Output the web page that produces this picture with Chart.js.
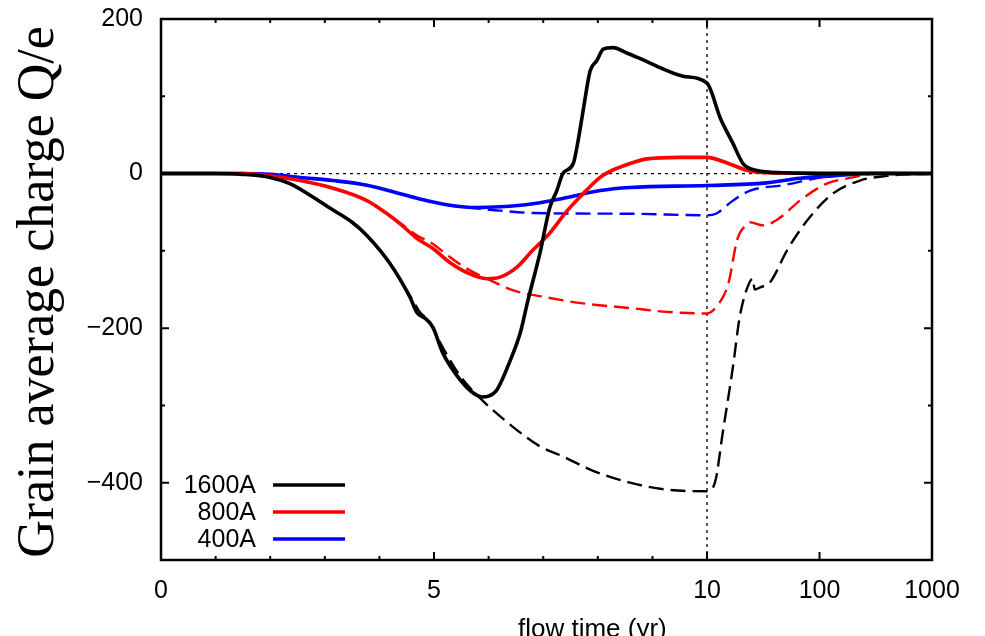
<!DOCTYPE html>
<html>
<head>
<meta charset="utf-8">
<title>Grain average charge</title>
<script src="https://cdn.jsdelivr.net/npm/chart.js@4.4.1/dist/chart.umd.min.js"></script>
<style>
  body { margin: 0; background: #fff; }
  canvas { display: block; }
</style>
</head>
<body>
<canvas id="chargeChart" width="985" height="636"></canvas>
<script>
// flow time in yr, charge in units of e
const t1600 = [0, 1, 1.5, 2, 2.36, 2.73, 3.1, 3.5, 3.77, 4.19, 4.56, 4.69, 4.85, 4.98, 5.16, 5.48, 5.7, 5.88, 6.0, 6.15, 6.4, 6.58, 6.72, 6.94, 7.12, 7.25, 7.36, 7.55, 7.64, 7.73, 7.86, 7.98, 8.1, 8.28, 8.53, 8.8, 9.14, 9.56, 10, 13.1, 17, 20.9, 27.8, 47.5, 100, 1000];
const q1600 = [0, 0, -1, -5, -13, -28, -45, -63, -80, -116, -160, -180, -188, -199, -232, -267, -283, -289, -288, -280, -241, -206, -164, -103, -44, -22, 0, 13, 43, 81, 133, 146, 161, 163, 156, 148, 137, 126, 117, 72, 39, 13, 4, 1, 0, 0];

const t800 = [0, 1.5, 2, 2.55, 3.15, 3.77, 4.14, 4.38, 4.69, 4.98, 5.29, 5.6, 5.97, 6.21, 6.52, 6.81, 7.12, 7.44, 7.73, 8.04, 8.17, 8.59, 8.9, 9.5, 10, 15.5, 22.9, 33.6, 100, 1000];
const q800 = [0, 0, -3, -9, -19, -35, -52, -65, -84, -97, -115, -128, -136, -134, -121, -99, -77, -48, -26, -5, 1, 13, 19, 21, 21, 13, 4, 1, 0.5, 0];

const t400 = [0, 1.5, 2, 2.55, 3.15, 3.77, 4.38, 4.69, 5.29, 5.79, 6.21, 6.81, 7.44, 8.04, 8.59, 10, 33.6, 66.8, 131, 300, 1000];
const q400 = [0, 0, -1, -5, -9, -15, -26, -32, -41, -44, -43, -39, -31, -22, -18, -15.5, -12, -6, -3, 0, 0];

const t1600d = [0, 1, 1.5, 2, 2.36, 2.73, 3.1, 3.5, 3.77, 4.19, 4.56, 4.75, 4.9, 5.16, 5.48, 5.88, 6.45, 6.94, 7.36, 7.86, 8.59, 9.27, 10, 11.8, 13.8, 17, 19.5, 22.9, 25.5, 26.5, 30, 36.2, 51.6, 77.3, 131, 229, 398, 1000];
const q1600d = [0, 0, -1, -5, -13, -28, -45, -63, -80, -116, -158, -180, -190, -225, -262, -293, -328, -353, -366, -383, -400, -409, -411, -399, -335, -250, -186, -147, -136, -150, -147, -141, -99, -61, -26, -9, -3, 0];

const t800d = [0, 1.5, 2, 2.55, 3.15, 3.77, 4.14, 4.38, 4.69, 4.98, 5.29, 5.6, 5.97, 6.45, 7.12, 7.73, 8.59, 9.27, 10, 12, 15.5, 18.5, 22.9, 24, 31.6, 44.6, 66.8, 116, 198, 300, 1000];
const q800d = [0, 0, -3, -9, -19, -35, -52, -64, -80, -91, -108, -123, -136, -151, -161, -168, -174, -179, -181, -173, -142, -86, -65, -63, -67, -57, -35, -13, -5, 0, 0];

const t400d = [0, 1.5, 2, 2.55, 3.15, 3.77, 4.38, 4.69, 5.29, 5.79, 6.21, 6.81, 8.59, 10, 12, 17, 24.2, 47.5, 93, 160, 1000];
const q400d = [0, 0, -1, -5, -9, -15, -26, -32, -41, -45, -48, -51, -52, -54, -52, -35, -22, -15, -6, 0, 0];

const xTickTimes = [0, 5, 10, 100, 1000];
const xTickLabels = ['0', '5', '10', '100', '1000'];
const xMinorTimes = [1, 2, 3, 4, 6, 7, 8, 9];
const yTickValues = [-400, -200, 0, 200];
const yMinorValues = [-500, -300, -100, 100];

// axis is linear up to 10 yr, then logarithmic
const DECADE = 2.06;
function toAxis(t) {
  return t <= 10 ? t : 10 + DECADE * Math.log10(t / 10);
}
function pts(ts, qs) {
  return ts.map((t, i) => ({ x: toAxis(t), y: qs[i] }));
}

function line(label, ts, qs, color, dashed) {
  return {
    label: label,
    data: pts(ts, qs),
    borderColor: color,
    borderWidth: dashed ? 2.4 : 3.6,
    borderDash: dashed ? [15, 7] : [],
    pointRadius: 0,
    fill: false,
    cubicInterpolationMode: 'monotone',
    inLegend: !dashed
  };
}

const frameAndTicks = {
  id: 'frameAndTicks',
  beforeDatasetsDraw(chart) {
    const { ctx, chartArea: a, scales: { x, y } } = chart;
    ctx.save();
    ctx.strokeStyle = '#000';
    ctx.lineWidth = 1.3;
    ctx.setLineDash([3, 4]);
    const y0 = y.getPixelForValue(0);
    const x10 = x.getPixelForValue(toAxis(10));
    ctx.beginPath();
    ctx.moveTo(a.left, y0); ctx.lineTo(a.right, y0);
    ctx.moveTo(x10, a.top); ctx.lineTo(x10, a.bottom);
    ctx.stroke();
    ctx.restore();
  },
  afterDatasetsDraw(chart) {
    const { ctx, chartArea: a, scales: { x, y } } = chart;
    ctx.save();
    ctx.strokeStyle = '#000';
    ctx.lineWidth = 2;
    ctx.beginPath();
    xTickTimes.forEach(t => {
      const px = x.getPixelForValue(toAxis(t));
      ctx.moveTo(px, a.bottom); ctx.lineTo(px, a.bottom - 8);
      ctx.moveTo(px, a.top); ctx.lineTo(px, a.top + 8);
    });
    xMinorTimes.forEach(t => {
      const px = x.getPixelForValue(toAxis(t));
      ctx.moveTo(px, a.bottom); ctx.lineTo(px, a.bottom - 4);
      ctx.moveTo(px, a.top); ctx.lineTo(px, a.top + 4);
    });
    yTickValues.forEach(v => {
      const py = y.getPixelForValue(v);
      ctx.moveTo(a.left, py); ctx.lineTo(a.left + 8, py);
      ctx.moveTo(a.right, py); ctx.lineTo(a.right - 8, py);
    });
    yMinorValues.forEach(v => {
      const py = y.getPixelForValue(v);
      ctx.moveTo(a.left, py); ctx.lineTo(a.left + 4, py);
      ctx.moveTo(a.right, py); ctx.lineTo(a.right - 4, py);
    });
    ctx.stroke();
    ctx.lineWidth = 2.5;
    ctx.strokeRect(a.left, a.top, a.right - a.left, a.bottom - a.top);

    // legend, inside the lower left corner
    ctx.font = '25px "Liberation Sans", Arial, sans-serif';
    ctx.textAlign = 'right';
    ctx.textBaseline = 'middle';
    ctx.fillStyle = '#000';
    chart.data.datasets.filter(d => d.inLegend).forEach((d, i) => {
      const ly = 485 + i * 27;
      ctx.fillText(d.label, 256, ly + 1);
      ctx.strokeStyle = d.borderColor;
      ctx.lineWidth = 3.5;
      ctx.beginPath();
      ctx.moveTo(273, ly); ctx.lineTo(345, ly);
      ctx.stroke();
    });

    // axis titles
    ctx.fillStyle = '#000';
    ctx.textAlign = 'left';
    ctx.textBaseline = 'alphabetic';
    ctx.font = '26px "Liberation Sans", Arial, sans-serif';
    ctx.fillText('flow time (yr)', 518, 637);
    ctx.save();
    ctx.translate(53, 292);
    ctx.rotate(-Math.PI / 2);
    ctx.textAlign = 'center';
    ctx.font = '52px "Liberation Serif", "DejaVu Serif", serif';
    ctx.fillText('Grain average charge Q/e', 0, 0);
    ctx.restore();
    ctx.restore();
  }
};

new Chart(document.getElementById('chargeChart'), {
  type: 'line',
  data: {
    datasets: [
      line('1600A', t1600, q1600, '#000000', false),
      line('800A', t800, q800, '#ff0000', false),
      line('400A', t400, q400, '#0000ff', false),
      line('1600A ', t1600d, q1600d, '#000000', true),
      line('800A ', t800d, q800d, '#ff0000', true),
      line('400A ', t400d, q400d, '#0000ff', true)
    ]
  },
  options: {
    responsive: false,
    devicePixelRatio: 1,
    animation: false,
    layout: { padding: { left: 0, top: 19, right: 53, bottom: 0 } },
    plugins: { legend: { display: false }, tooltip: { enabled: false } },
    scales: {
      x: {
        type: 'linear',
        min: 0,
        max: toAxis(1000),
        grid: { display: false },
        border: { display: false },
        afterFit: s => { s.height = 76; s.paddingLeft = 0; s.paddingRight = 0; },
        afterBuildTicks: s => { s.ticks = xTickTimes.map(t => ({ value: toAxis(t) })); },
        ticks: {
          padding: 8,
          maxRotation: 0,
          color: '#000',
          font: { family: '"Liberation Sans", Arial, sans-serif', size: 25 },
          callback: (v, i) => xTickLabels[i]
        }
      },
      y: {
        min: -500,
        max: 200,
        grid: { display: false },
        border: { display: false },
        afterFit: s => { s.width = 161; s.paddingTop = 0; s.paddingBottom = 0; },
        afterBuildTicks: s => { s.ticks = yTickValues.map(v => ({ value: v })); },
        ticks: {
          padding: 10,
          color: '#000',
          font: { family: '"Liberation Sans", Arial, sans-serif', size: 25 },
          callback: v => (v < 0 ? '\u2212' + Math.abs(v) : String(v))
        }
      }
    }
  },
  plugins: [frameAndTicks]
});
</script>
</body>
</html>
